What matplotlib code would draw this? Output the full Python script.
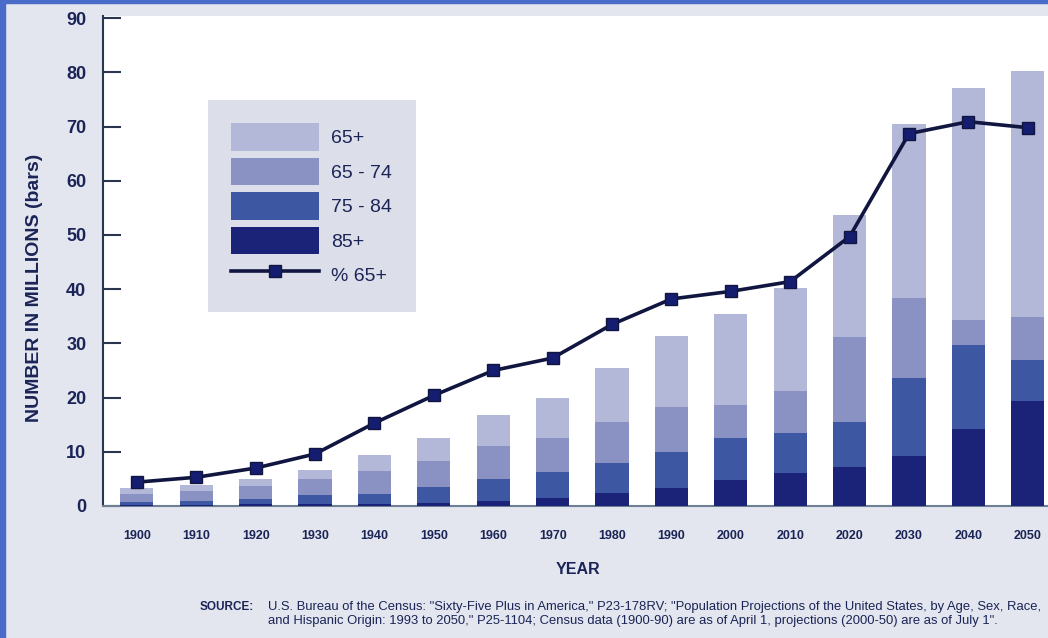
import matplotlib
matplotlib.use("Agg")
import matplotlib.pyplot as plt
from matplotlib.patches import Patch, Rectangle
from matplotlib.lines import Line2D

plt.rcParams['font.family'] = ['Liberation Sans', 'DejaVu Sans']

years = [1900, 1910, 1920, 1930, 1940, 1950, 1960, 1970, 1980, 1990,
         2000, 2010, 2020, 2030, 2040, 2050]
total_65 = [3.3, 3.9, 4.9, 6.6, 9.4, 12.5, 16.8, 20.0, 25.5, 31.3,
            35.5, 40.3, 53.6, 70.5, 77.2, 80.3]
age_65_74 = [2.2, 2.8, 3.6, 5.0, 6.5, 8.3, 11.0, 12.5, 15.5, 18.2,
             18.6, 21.2, 31.1, 38.3, 34.4, 34.8]
age_75_84 = [0.8, 1.0, 1.3, 2.0, 2.2, 3.5, 5.0, 6.3, 7.9, 10.0,
             12.5, 13.4, 15.5, 23.6, 29.7, 26.9]
age_85 = [0.2, 0.2, 0.3, 0.3, 0.4, 0.6, 0.9, 1.5, 2.4, 3.3,
          4.8, 6.1, 7.2, 9.2, 14.2, 19.3]
pct_65 = [4.4, 5.3, 7.0, 9.6, 15.3, 20.4, 25.0, 27.3, 33.5, 38.2,
          39.6, 41.4, 49.7, 68.7, 70.9, 69.8]
yticks = [0, 10, 20, 30, 40, 50, 60, 70, 80, 90]
labels = ['65+', '65 - 74', '75 - 84', '85+', '% 65+']

c_tot = '#b3b8d9'
c_6574 = '#8a92c3'
c_7584 = '#3d57a3'
c_85 = '#1b2378'
c_line = '#10163f'
c_mark = '#151d70'
txt = '#1a2456'
bg = '#e3e6ee'

fig = plt.figure(figsize=(10.48, 6.38), dpi=100)
fig.patch.set_facecolor(bg)
# blue frame
fig.patches.append(Rectangle((0, 0), 5/1048, 1, transform=fig.transFigure,
                             color='#4a6bc9', zorder=10))
fig.patches.append(Rectangle((0, 1 - 3/638), 1, 3/638, transform=fig.transFigure,
                             color='#4a6bc9', zorder=10))

ax = fig.add_axes([103/1048, 1 - 506/638, 1 - 103/1048, 490/638])
ax.set_facecolor('white')

w = 5.6
ax.bar(years, total_65, width=w, color=c_tot, zorder=2)
ax.bar(years, age_65_74, width=w, color=c_6574, zorder=3)
ax.bar(years, age_75_84, width=w, color=c_7584, zorder=4)
ax.bar(years, age_85, width=w, color=c_85, zorder=5)
ax.plot(years, pct_65, color=c_line, lw=2.6, marker='s', markersize=9,
        markerfacecolor=c_mark, markeredgecolor=c_line, zorder=6)

ax.set_xlim(1894.3, 2053.4)
ax.set_ylim(0, 90.4)
ax.set_yticks(yticks)
ax.set_xticks(years)
ax.set_xticklabels([str(y) for y in years], fontsize=9, fontweight='bold', color=txt)
ax.set_yticklabels([str(v) for v in yticks], fontsize=13, fontweight='bold', color=txt)
ax.tick_params(axis='y', direction='in', length=13, width=1.5, color='#2b3550', pad=12)
ax.tick_params(axis='x', length=0, pad=17)
for s in ['top', 'right']:
    ax.spines[s].set_visible(False)
ax.spines['left'].set_color('#2b3550')
ax.spines['left'].set_linewidth(1.5)
ax.spines['bottom'].set_color('#6f7f95')
ax.spines['bottom'].set_linewidth(1.5)

fig.text(35/1048, 1 - 288/638, 'NUMBER IN MILLIONS (bars)', rotation=90,
         ha='center', va='center', fontsize=14, fontweight='bold', color=txt)
fig.text(578/1048, 1 - 570/638, 'YEAR', ha='center', va='center',
         fontsize=11.5, fontweight='bold', color=txt)

fig.text(200/1048, 1 - 607/638, 'SOURCE:', ha='left', va='center',
         fontsize=8.5, fontweight='bold', color=txt)
fig.text(268/1048, 1 - 607/638,
         'U.S. Bureau of the Census: "Sixty-Five Plus in America," P23-178RV; '
         '"Population Projections of the United States, by Age, Sex, Race,',
         ha='left', va='center', fontsize=9.4, color=txt)
fig.text(268/1048, 1 - 621/638,
         'and Hispanic Origin: 1993 to 2050," P25-1104; Census data (1900-90) are as of '
         'April 1, projections (2000-50) are as of July 1".',
         ha='left', va='center', fontsize=9.4, color=txt)

handles = [Patch(facecolor=c_tot), Patch(facecolor=c_6574),
           Patch(facecolor=c_7584), Patch(facecolor=c_85),
           Line2D([], [], color=c_line, lw=2.6, marker='s', markersize=9,
                  markerfacecolor=c_mark)]
leg = ax.legend(handles, labels, loc='upper left',
                bbox_to_anchor=(208/1048, 1 - 100/638),
                bbox_transform=fig.transFigure,
                fontsize=14, handlelength=4.5, handleheight=1.8,
                labelspacing=0.36, borderpad=1.2, handletextpad=0.65,
                frameon=True, fancybox=False, borderaxespad=0)
leg.get_frame().set_facecolor('#dcdfe9')
leg.get_frame().set_edgecolor('none')
leg.get_frame().set_alpha(1)
for t in leg.get_texts():
    t.set_color(txt)

fig.savefig('out.png', dpi=100, facecolor=fig.get_facecolor())
